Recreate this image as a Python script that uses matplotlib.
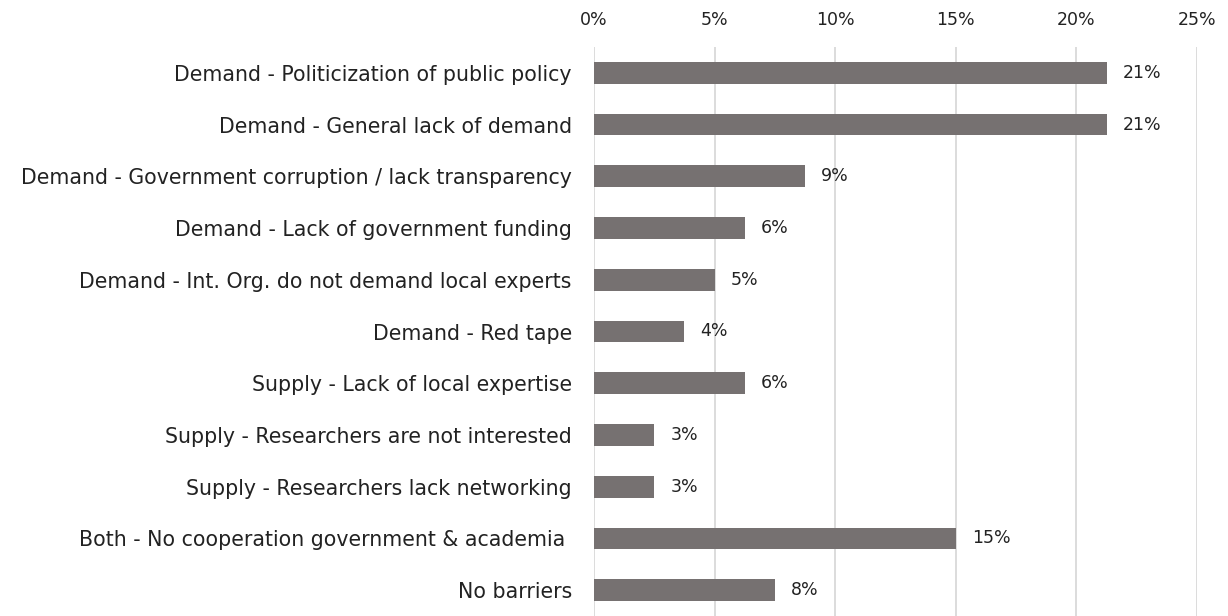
import math
import matplotlib
matplotlib.use("Agg")
import matplotlib.pyplot as plt
from matplotlib.ticker import FuncFormatter

# Barriers to research uptake (share of 80 respondents)
categories = [
    "Demand - Politicization of public policy",
    "Demand - General lack of demand",
    "Demand - Government corruption / lack transparency",
    "Demand - Lack of government funding",
    "Demand - Int. Org. do not demand local experts",
    "Demand - Red tape",
    "Supply - Lack of local expertise",
    "Supply - Researchers are not interested",
    "Supply - Researchers lack networking",
    "Both - No cooperation government & academia ",
    "No barriers",
]
counts = [17, 17, 7, 5, 4, 3, 5, 2, 2, 12, 6]
total = 80
shares = [100.0 * c / total for c in counts]

x_ticks = [0, 5, 10, 15, 20, 25]

plt.rcParams["font.family"] = ["DejaVu Sans"]
text_color = "#222222"
bar_color = "#767171"
grid_color = "#d9d9d9"

fig = plt.figure(figsize=(12.28, 6.16), dpi=100)
ax = fig.add_axes([594 / 1228, 0.0, (1197 - 594) / 1228, 1 - 47 / 616])

y = list(range(len(categories)))
ax.barh(y, shares, height=0.42, color=bar_color, zorder=3)

for yi, v in zip(y, shares):
    ax.annotate(f"{math.floor(v + 0.5):.0f}%", xy=(v, yi), xytext=(11.5, 0),
                textcoords="offset points", ha="left", va="center",
                fontsize=12.5, color=text_color)

ax.set_xlim(x_ticks[0], x_ticks[-1])
ax.set_ylim(len(categories) - 0.5, -0.5)
ax.set_xticks(x_ticks)
ax.xaxis.set_major_formatter(FuncFormatter(lambda v, p: f"{v:.0f}%"))
ax.xaxis.tick_top()
ax.set_yticks(y)
ax.set_yticklabels(categories)

ax.tick_params(axis="x", length=0, pad=13, labelsize=12.5, colors=text_color)
ax.tick_params(axis="y", length=0, pad=16, labelsize=14.8, colors=text_color)

ax.grid(axis="x", color=grid_color, linewidth=1.3, zorder=0)
ax.set_axisbelow(True)
for s in ax.spines.values():
    s.set_visible(False)

fig.savefig("out.png", dpi=100, facecolor="white")
